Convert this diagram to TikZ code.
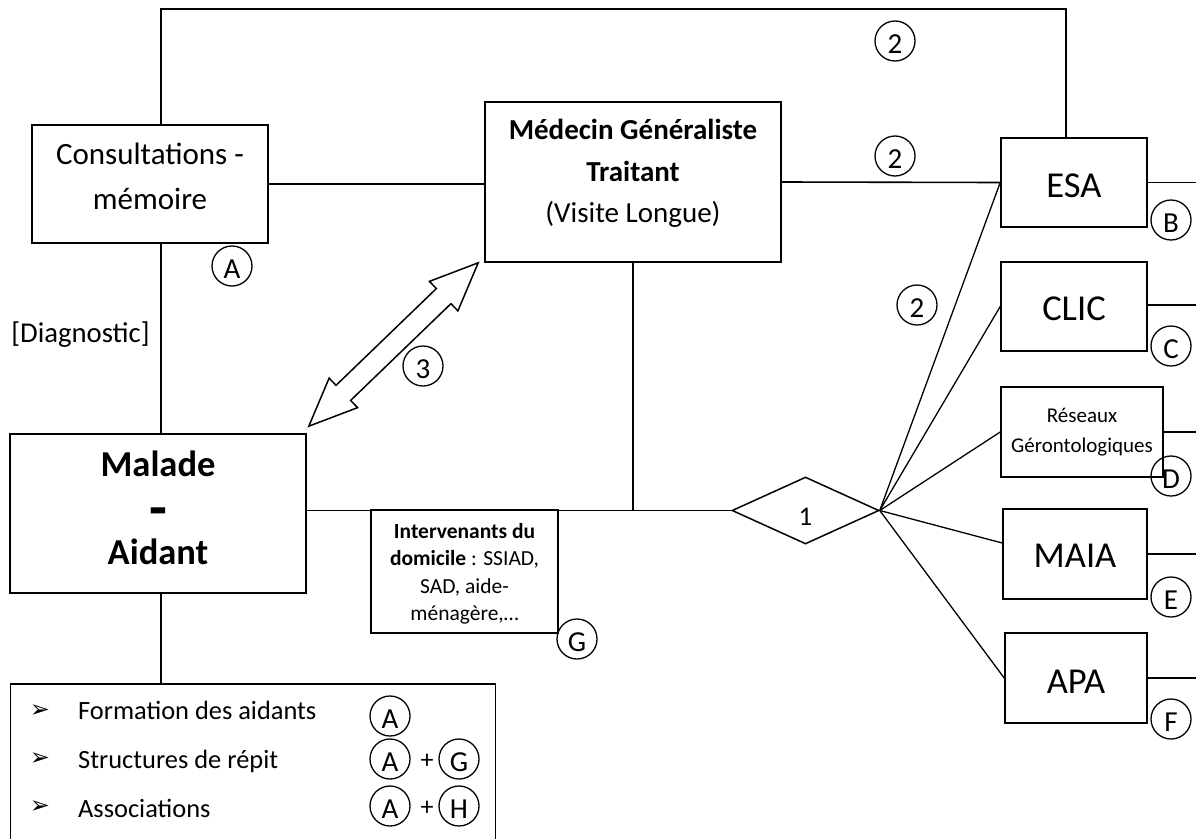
\documentclass[tikz,border=0pt]{standalone}
\usepackage{fontspec}
\usepackage{graphicx}
\setmainfont{Carlito}
\newfontfamily\djv{DejaVu Sans}
\usetikzlibrary{shapes.geometric,calc}
\begin{document}
\begin{tikzpicture}[x=1pt,y=-1pt,
  box/.style={draw, line width=1.6pt, inner sep=0pt},
  conn/.style={line width=1.6pt},
  fan/.style={line width=1.3pt},
  lbl/.style={draw, circle, line width=1.3pt, minimum size=40pt, inner sep=0pt,
    font=\fontsize{29}{29}\selectfont, text height=24pt, text depth=0pt},
  txt/.style={inner sep=0pt, align=center},
  one/.style={inner sep=0pt, anchor=base},
  bul/.style={inner sep=0pt, font=\djv\fontsize{24}{24}\selectfont},
  item/.style={inner sep=0pt, anchor=base west, font=\fontsize{26.4}{30}\selectfont},
]
\useasboundingbox (0,0) rectangle (1196,838);
\clip (0,0) rectangle (1196,838);

% boxes
\node[box, minimum width=236pt, minimum height=118pt] (cons) at (150,184) {};
\node[box, minimum width=296pt, minimum height=160pt] (med) at (633,182) {};
\node[box, minimum width=146pt, minimum height=89pt] (esa) at (1074,182.5) {};
\node[box, minimum width=146pt, minimum height=89pt] (clic) at (1074,306.5) {};
\node[box, minimum width=162pt, minimum height=90pt] (res) at (1082,432) {};
\node[box, minimum width=144pt, minimum height=90pt] (maia) at (1075,554) {};
\node[box, minimum width=142pt, minimum height=90pt] (apa) at (1076,678) {};
\node[box, minimum width=296pt, minimum height=159pt] (mal) at (158,513.5) {};
\node[box, minimum width=187pt, minimum height=123pt] (int) at (464.5,571.5) {};
\node[box, minimum width=485pt, minimum height=200pt, anchor=north west] (list) at (9.6,683) {};
\node[draw, diamond, line width=1.5pt, minimum width=147pt, minimum height=67pt, aspect=2.2,
  inner sep=0pt, font=\fontsize{27}{27}\selectfont, text height=29pt, text depth=0pt] (dia) at (805.5,510.5) {1};

% texts
\node[txt, font=\fontsize{31}{45}\selectfont] (const) at ([yshift=7.3pt]cons.center) {Consultations -\\mémoire};
\node[txt, font=\fontsize{29}{41.5}\selectfont] (medt) at ([yshift=8.5pt]med.center)
  {\textbf{Médecin Généraliste}\\\textbf{Traitant}\\(Visite Longue)};
\node[one, font=\fontsize{36.5}{40}\selectfont] (esat) at ([yshift=-14.5pt]esa.center) {ESA};
\node[one, font=\fontsize{36.5}{40}\selectfont] (clict) at ([yshift=-13.5pt]clic.center) {CLIC};
\node[txt, font=\fontsize{21}{30}\selectfont] (rest) at (res.center) {Réseaux\\Gérontologiques};
\node[one, font=\fontsize{36.5}{40}\selectfont] (maiat) at ([yshift=-13pt]maia.center) {MAIA};
\node[one, font=\fontsize{36.5}{40}\selectfont] (apat) at ([yshift=-15pt]apa.center) {APA};
\node[txt, font=\bfseries\fontsize{36.5}{44}\selectfont] (malt) at ([yshift=5.3pt]mal.center)
  {Malade\\\smash{\raisebox{-7pt}{\scalebox{1.6}[1.6]{-}}}\\Aidant};
\node[txt, font=\fontsize{21.5}{27.3}\selectfont] (intt) at ([yshift=-2.3pt]int.center)
  {\textbf{Intervenants du}\\\textbf{domicile} : SSIAD,\\SAD, aide-\\ménagère,…};
\node[one, font=\fontsize{28.7}{30}\selectfont] (diag) at (80.5,342) {[Diagnostic]};

% list
\node[bul] (b1) at (40,711) {➢};
\node[bul] (b2) at (40,759) {➢};
\node[bul] (b3) at (40,807.5) {➢};
\node[item] (l1) at (78,719) {Formation des aidants};
\node[item] (l2) at (78,768) {Structures de répit};
\node[item] (l3) at (78,817) {Associations};
\node[lbl] (la1) at (390,716) {A};
\node[lbl] (la2) at (390,759) {A};
\node[lbl] (lg) at (459,759) {G};
\node[lbl] (la3) at (390,806) {A};
\node[lbl] (lh) at (459,806) {H};
\node[inner sep=0pt, font=\fontsize{26}{26}\selectfont] (p1) at (427,761) {+};
\node[inner sep=0pt, font=\fontsize{26}{26}\selectfont] (p2) at (427,808) {+};

% circled labels
\node[lbl] (cA) at (232,266) {A};
\node[lbl] (c2a) at (895,41) {2};
\node[lbl] (c2b) at (895,156) {2};
\node[lbl] (c2c) at (917,305) {2};
\node[lbl] (c3) at (423,366) {3};
\node[lbl] (cB) at (1171,220) {B};
\node[lbl] (cC) at (1171,346) {C};
\node[lbl] (cD) at (1171,476) {D};
\node[lbl] (cE) at (1171,597) {E};
\node[lbl] (cF) at (1171,719) {F};
\node[lbl] (cG) at (577,639) {G};

% connectors
\coordinate (topL) at (161,9);
\coordinate (topR) at (1066,9);
\coordinate (edge) at (1200,0);
\draw[line width=2pt] (cons.north -| topL) -- (topL) -- (topR) -- (esa.north -| topR);
\draw[conn] (cons.south -| topL) -- (mal.north -| topL);
\draw[conn] (mal.south -| topL) -- (list.north -| topL);
\draw[conn] (cons.east) -- (cons.east -| med.west);
\draw[conn] (med.east) -- (esa.west);
\draw[conn] (mal.east |- dia.west) -- (dia.west);
\draw[conn] (med.south) -- (med.south |- dia.west);
\draw[fan] (dia.east) -- (esa.west);
\draw[fan] (dia.east) -- (clic.west);
\draw[fan] (dia.east) -- (res.west);
\draw[fan] (dia.east) -- ([yshift=11pt]maia.west);
\draw[fan] (dia.east) -- (apa.west);
\draw[conn] (esa.east) -- (esa.east -| edge);
\draw[conn] ([yshift=1.5pt]clic.east) -- ([yshift=1.5pt]clic.east -| edge);
\draw[conn] (res.east) -- (res.east -| edge);
\draw[conn] (maia.east) -- (maia.east -| edge);
\draw[conn] (apa.east) -- (apa.east -| edge);

% double arrow
\coordinate (t1) at ($(mal.north east)+(2,-7)$);
\coordinate (t2) at ($(med.south west)+(-6,0)$);
\coordinate (h1) at ($(t1)!48pt!(t2)$);
\coordinate (h2) at ($(t2)!48pt!(t1)$);
\draw[line width=1.5pt, fill=white, line join=miter]
  (t1) -- ($(h1)!20.5pt!90:(t2)$) -- ($(h1)!10.5pt!90:(t2)$)
  -- ($(h2)!10.5pt!-90:(t1)$) -- ($(h2)!20.5pt!-90:(t1)$) -- (t2)
  -- ($(h2)!20.5pt!90:(t1)$) -- ($(h2)!10.5pt!90:(t1)$)
  -- ($(h1)!10.5pt!-90:(t2)$) -- ($(h1)!20.5pt!-90:(t2)$) -- cycle;
\end{tikzpicture}
\end{document}
